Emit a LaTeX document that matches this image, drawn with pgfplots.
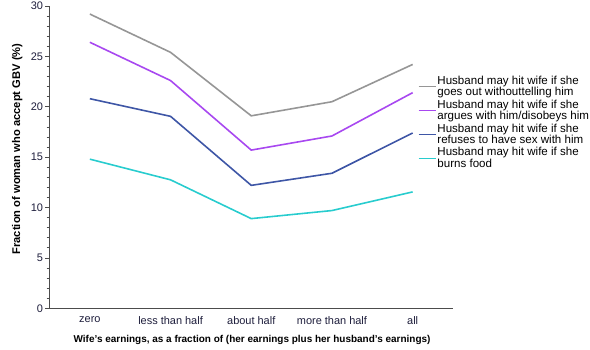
\documentclass[border=0pt]{standalone}
\usepackage{pgfplots}
\pgfplotsset{compat=1.18}
\usepackage{fontspec}
\setmainfont{Liberation Sans}
\definecolor{cgray}{RGB}{150,150,150}
\definecolor{cpurple}{RGB}{168,72,240}
\definecolor{cblue}{RGB}{62,86,166}
\definecolor{ctext}{RGB}{30,30,60}
\definecolor{ccyan}{RGB}{40,204,206}
\begin{document}
\begin{tikzpicture}
\useasboundingbox (-49.5bp,-41.7bp) rectangle (540.5bp,308.3bp);
\begin{axis}[
  at={(40.35bp,0bp)}, anchor=origin,
  scale only axis,
  width=403.5bp, height=302.3bp,
  xmin=-0.5, xmax=4.5, ymin=0, ymax=30,
  xtick={0,1,2,3,4},
  xticklabels={zero,less than half,about half,more than half,all},
  ytick={0,5,...,30},
  minor y tick num=4,
  axis x line=bottom, axis y line=left,
  axis line style={-, draw=black!70, line width=0.9pt},
  x tick style={draw=none},
  y tick style={draw=black!70, line width=0.8pt},
  tick align=outside,
  major tick length=4bp, minor tick length=3bp,
  tick label style={font=\fontsize{11}{12}\selectfont, text=ctext},
  /pgf/number format/assume math mode=true,
  yticklabel style={xshift=1bp},
  xticklabel style={yshift=-1bp},
  ylabel={Fraction of woman who accept GBV (\%)},
  ylabel style={at={(axis description cs:-0.08,0.527)}, anchor=center, font=\bfseries\fontsize{11.2}{12}\selectfont},
  xlabel={Wife's earnings, as a fraction of (her earnings plus her husband's earnings)},
  xlabel style={at={(axis description cs:0.502,-0.105)}, anchor=center, font=\bfseries\fontsize{10}{12}\selectfont},
  legend style={at={(axis description cs:0.905,0.778)}, anchor=north west, draw=none, fill=none,
    font=\fontsize{11.6}{10.6}\selectfont, nodes={align=left, inner sep=0.5bp}, row sep=1.3bp,
    /tikz/every odd column/.append style={column sep=0.5bp}},
  legend cell align=left,
  legend image code/.code={\draw[#1, line width=1.6pt] (0bp,0bp) -- (17bp,0bp);},
  every axis plot/.append style={line width=1.6pt},
  clip=false,
]
\addplot[cgray] coordinates {(0,29.2) (1,25.4) (2,19.1) (3,20.5) (4,24.2)};
\addlegendentry{Husband may hit wife if she\\goes out withouttelling him}
\addplot[cpurple] coordinates {(0,26.4) (1,22.6) (2,15.7) (3,17.1) (4,21.4)};
\addlegendentry{Husband may hit wife if she\\argues with him/disobeys him}
\addplot[cblue] coordinates {(0,20.8) (1,19.05) (2,12.2) (3,13.4) (4,17.4)};
\addlegendentry{Husband may hit wife if she\\refuses to have sex with him}
\addplot[ccyan] coordinates {(0,14.8) (1,12.75) (2,8.9) (3,9.7) (4,11.55)};
\addlegendentry{Husband may hit wife if she\\burns food}
\end{axis}
\end{tikzpicture}
\end{document}
